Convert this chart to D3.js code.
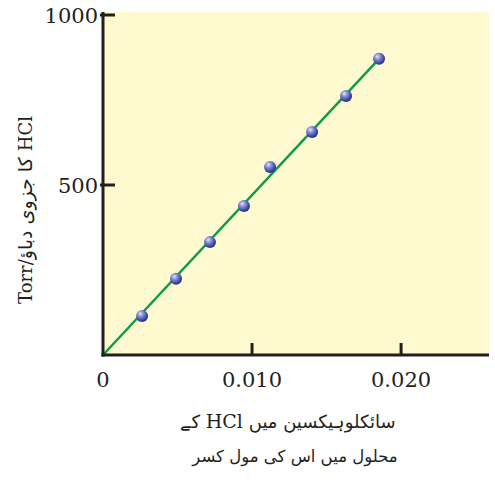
<!DOCTYPE html>
<html><head><meta charset="utf-8">
<script src="https://cdn.jsdelivr.net/npm/d3@7"></script>
<style>body{margin:0;background:#fff}svg{display:block}</style>
</head><body>
<svg id="c" width="495" height="482"></svg>
<script>
const moleFraction = [0.00262, 0.0049, 0.00718, 0.00946, 0.01121, 0.01403, 0.01631, 0.01852];
const pressure = [115, 224, 332, 438, 553, 656, 762, 871];
const fitX = [0, 0.01852];
const fitY = [0, 871];
const xTicks = [0, 0.010, 0.020];
const xTickLabels = ["0", "0.010", "0.020"];
const yTicks = [500, 1000];
const yTickLabels = ["500", "1000"];
const yTitleParts = ["HCl", " کا جزوی دباؤ", "/Torr"];
const xTitle1Parts = ["سائکلوہیکسین میں ", "HCl", " کے"];
const xTitle2 = "محلول میں اس کی مول کسر";

const svg = d3.select("#c");
const x = d3.scaleLinear().domain([0, 0.0259]).range([103, 489]);
const y = d3.scaleLinear().domain([0, 1000]).range([355, 15]);

const defs = svg.append("defs");
const g = defs.append("radialGradient").attr("id","ball").attr("cx","40%").attr("cy","35%").attr("r","65%").attr("fx","35%").attr("fy","30%");
g.append("stop").attr("offset","0%").attr("stop-color","#e4e7fb");
g.append("stop").attr("offset","35%").attr("stop-color","#8c93d4");
g.append("stop").attr("offset","75%").attr("stop-color","#454fa8");
g.append("stop").attr("offset","100%").attr("stop-color","#262c82");

svg.append("rect").attr("x", 104).attr("y", 12).attr("width", 489-104).attr("height", 355-12).attr("fill", "#fff9d0");

svg.append("line")
  .attr("x1", x(fitX[0])).attr("y1", y(fitY[0]))
  .attr("x2", x(fitX[1])).attr("y2", y(fitY[1]))
  .attr("stroke", "#0e9c4a").attr("stroke-width", 2.5);

svg.selectAll("circle.p").data(moleFraction).enter().append("circle")
  .attr("class","p")
  .attr("cx", d => x(d)).attr("cy", (d,i) => y(pressure[i]))
  .attr("r", 6).attr("fill", "url(#ball)");

const axisColor = "#231f20";
svg.append("line").attr("x1",103).attr("x2",103).attr("y1",12).attr("y2",356.5).attr("stroke",axisColor).attr("stroke-width",3);
svg.append("line").attr("x1",101.5).attr("x2",489).attr("y1",355).attr("y2",355).attr("stroke",axisColor).attr("stroke-width",3);

yTicks.forEach((t,i) => {
  svg.append("line").attr("x1",100).attr("x2",115).attr("y1",y(t)).attr("y2",y(t)).attr("stroke",axisColor).attr("stroke-width",3);
  svg.append("text").attr("x",98).attr("y",y(t)).attr("dy","0.36em").attr("text-anchor","end")
    .attr("font-family","DejaVu Serif").attr("font-size",21).attr("fill","#231f20").text(yTickLabels[i]);
});
xTicks.forEach((t,i) => {
  if (t > 0) svg.append("line").attr("x1",x(t)).attr("x2",x(t)).attr("y1",343).attr("y2",355).attr("stroke",axisColor).attr("stroke-width",3);
  svg.append("text").attr("x",x(t)).attr("y",387).attr("text-anchor","middle")
    .attr("font-family","DejaVu Serif").attr("font-size",21).attr("fill","#231f20").text(xTickLabels[i]);
});

// y title
const yt = svg.append("text").attr("transform","translate(32,210) rotate(-90)").attr("text-anchor","middle")
  .attr("direction","rtl").attr("fill","#231f20");
yt.append("tspan").attr("font-family","DejaVu Serif").attr("font-size",18).text(yTitleParts[0]);
yt.append("tspan").attr("font-family","DejaVu Sans").attr("font-size",19).text(yTitleParts[1]);
yt.append("tspan").attr("font-family","DejaVu Serif").attr("font-size",18).text(yTitleParts[2]);

// x title
const xt = svg.append("text").attr("x",288).attr("y",428).attr("text-anchor","middle").attr("direction","rtl").attr("fill","#231f20");
xt.append("tspan").attr("font-family","DejaVu Sans").attr("font-size",18).text(xTitle1Parts[0]);
xt.append("tspan").attr("font-family","DejaVu Serif").attr("font-size",19).text(xTitle1Parts[1]);
xt.append("tspan").attr("font-family","DejaVu Sans").attr("font-size",18).text(xTitle1Parts[2]);
svg.append("text").attr("x",295).attr("y",462).attr("text-anchor","middle").attr("direction","rtl")
  .attr("font-family","DejaVu Sans").attr("font-size",16.5).attr("fill","#231f20").text(xTitle2);
</script>
</body></html>
